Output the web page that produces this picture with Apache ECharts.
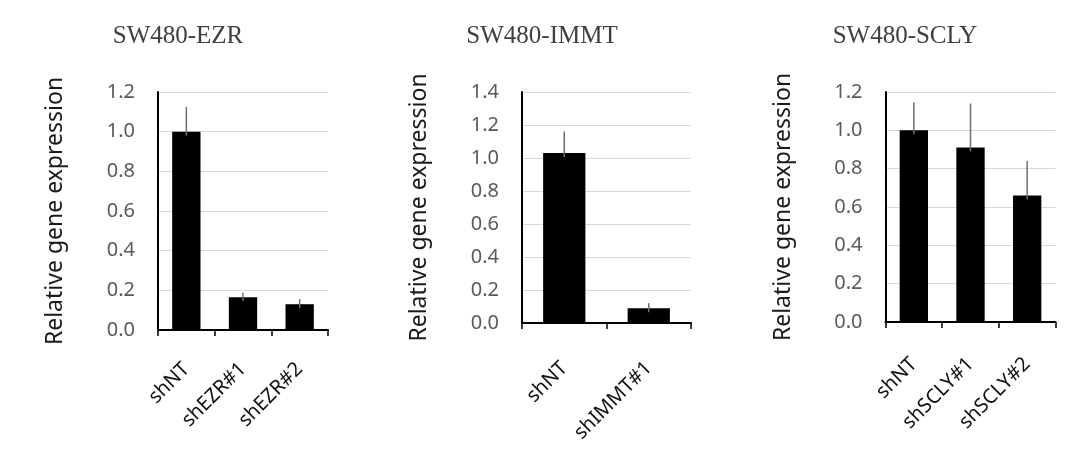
<!DOCTYPE html>
<html>
<head>
<meta charset="utf-8">
<script src="https://cdn.jsdelivr.net/npm/echarts@6/dist/echarts.min.js"></script>
<style>html,body{margin:0;padding:0;background:#fff;}#c{width:1073px;height:461px;}</style>
</head>
<body>
<div id="c"></div>
<script>
// ---- data ----
const titles = ['SW480-EZR', 'SW480-IMMT', 'SW480-SCLY'];
const yName = 'Relative gene expression';

const ezrCategories = ['shNT', 'shEZR#1', 'shEZR#2'];
const ezrValues = [1.0, 0.165, 0.13];
const ezrErrors = [0.125, 0.023, 0.025];
const ezrMax = 1.2;

const immtCategories = ['shNT', 'shIMMT#1'];
const immtValues = [1.03, 0.09];
const immtErrors = [0.13, 0.03];
const immtMax = 1.4;

const sclyCategories = ['shNT', 'shSCLY#1', 'shSCLY#2'];
const sclyValues = [1.0, 0.91, 0.66];
const sclyErrors = [0.145, 0.23, 0.18];
const sclyMax = 1.2;

const yInterval = 0.2;

// ---- layout ----
const panels = [
  { cats: ezrCategories, vals: ezrValues, errs: ezrErrors, max: ezrMax, grid: { left: 158, width: 170, top: 92, bottom: 131 }, titleX: 178, labelMargin: 36 },
  { cats: immtCategories, vals: immtValues, errs: immtErrors, max: immtMax, grid: { left: 522, width: 169, top: 92, bottom: 138 }, titleX: 542, labelMargin: 42 },
  { cats: sclyCategories, vals: sclyValues, errs: sclyErrors, max: sclyMax, grid: { left: 885.5, width: 170, top: 92, bottom: 139 }, titleX: 905, labelMargin: 39 }
];

const sans = '"Noto Sans", sans-serif';
const option = {
  animation: false,
  backgroundColor: '#fff',
  grid: [], xAxis: [], yAxis: [], series: [],
  graphic: []
};

panels.forEach((p, i) => {
  option.grid.push(Object.assign({ containLabel: false }, p.grid));
  option.xAxis.push({
    type: 'category', gridIndex: i, data: p.cats, boundaryGap: true,
    axisLine: { show: true, onZero: false, lineStyle: { color: '#000', width: 2 } },
    axisTick: { show: true, length: 6, alignWithLabel: false, lineStyle: { color: '#000', width: 1.5 } },
    axisLabel: { rotate: 45, margin: p.labelMargin, color: '#111', fontSize: 20, fontFamily: sans, interval: 0, align: 'right', verticalAlign: 'middle' },
    splitLine: { show: false }
  });
  option.yAxis.push({
    type: 'value', gridIndex: i, min: 0, max: p.max, interval: yInterval,
    name: yName, nameLocation: 'middle', nameGap: 91, nameRotate: 90,
    nameTextStyle: { color: '#1a1a1a', fontSize: 23, fontFamily: sans },
    axisLine: { show: true, lineStyle: { color: '#000', width: 2 } },
    axisTick: { show: false },
    axisLabel: { margin: 23, color: '#5a5a5a', fontSize: 20, fontFamily: sans, formatter: v => v.toFixed(1) },
    splitLine: { show: true, lineStyle: { color: '#d9d9d9', width: 1 } }
  });
  option.series.push({
    type: 'bar', xAxisIndex: i, yAxisIndex: i, data: p.vals, barWidth: '50%',
    itemStyle: { color: '#000' }, z: 2
  });
  option.series.push({
    type: 'custom', xAxisIndex: i, yAxisIndex: i, z: 3,
    data: p.vals.map((v, k) => [k, v, p.errs[k]]),
    renderItem: function (params, api) {
      const x = api.value(0), v = api.value(1), e = api.value(2);
      const a = api.coord([x, v]);
      const b = api.coord([x, v + e]);
      return {
        type: 'line',
        shape: { x1: a[0], y1: a[1] + 4, x2: b[0], y2: b[1] },
        style: { stroke: '#6e6e6e', lineWidth: 1.5 }
      };
    }
  });
  option.graphic.push({
    type: 'text', x: p.titleX, y: 36,
    style: { text: titles[i], x: 0, y: 0, align: 'center', verticalAlign: 'middle',
      font: '25px "Liberation Serif", "Times New Roman", serif', fill: '#404040' }
  });
});

const chart = echarts.init(document.getElementById('c'), null, { renderer: 'canvas' });
chart.setOption(option);
</script>
</body>
</html>
